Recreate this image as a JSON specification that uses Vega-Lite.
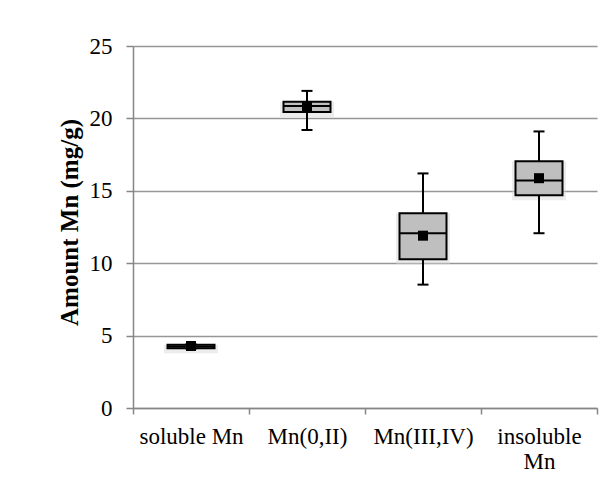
{
  "$schema": "https://vega.github.io/schema/vega-lite/v6.json",
  "width": 464,
  "height": 362,
  "autosize": "none",
  "padding": {"left": 133, "top": 46, "right": 16, "bottom": 81},
  "background": "white",
  "config": {
    "font": "Liberation Serif",
    "view": {"stroke": null},
    "axis": {
      "labelFont": "Liberation Serif",
      "titleFont": "Liberation Serif",
      "labelColor": "black",
      "titleColor": "black",
      "domainColor": "#868686",
      "tickColor": "#868686",
      "gridColor": "#969696",
      "domainWidth": 1.5,
      "tickWidth": 1.5,
      "gridWidth": 1.5
    },
    "axisY": {
      "labelFontSize": 23,
      "labelPadding": 14,
      "tickSize": 7,
      "titleFontSize": 25,
      "titleFontWeight": "bold",
      "titlePadding": 7
    }
  },
  "data": {
    "values": [
      {"cat": "soluble Mn", "min": 4.1, "q1": 4.12, "median": 4.24, "q3": 4.36, "max": 4.4, "mean": 4.28},
      {"cat": "Mn(0,II)", "min": 19.2, "q1": 20.45, "median": 20.85, "q3": 21.15, "max": 21.9, "mean": 20.8},
      {"cat": "Mn(III,IV)", "min": 8.52, "q1": 10.27, "median": 12.07, "q3": 13.45, "max": 16.2, "mean": 11.9},
      {"cat": "insoluble Mn", "min": 12.07, "q1": 14.69, "median": 15.71, "q3": 17.04, "max": 19.1, "mean": 15.87}
    ]
  },
  "encoding": {
    "x": {
      "field": "cat",
      "type": "nominal",
      "sort": null,
      "scale": {"paddingInner": 0, "paddingOuter": 0},
      "axis": {
        "title": null,
        "labelAngle": 0,
        "labelFontSize": 23,
        "labelPadding": 11,
        "tickSize": 6,
        "tickBand": "extent",
        "labelLineHeight": 25,
        "labelExpr": "datum.label == 'insoluble Mn' ? ['insoluble', 'Mn'] : datum.label"
      }
    }
  },
  "layer": [
    {
      "mark": {"type": "bar", "size": 54, "color": "#d4d4d4", "opacity": 0.45, "yOffset": 5},
      "encoding": {
        "y": {
          "field": "q1",
          "type": "quantitative",
          "scale": {"domain": [0, 25], "nice": false},
          "title": "Amount Mn (mg/g)",
          "axis": {
            "values": [0, 5, 10, 15, 20, 25],
            "grid": true,
            "titleY": 176
          }
        },
        "y2": {"field": "q3"}
      }
    },
    {
      "mark": {"type": "rule", "color": "black", "strokeWidth": 2},
      "encoding": {
        "y": {"field": "min", "type": "quantitative", "title": "Amount Mn (mg/g)"},
        "y2": {"field": "max"}
      }
    },
    {
      "mark": {"type": "tick", "color": "black", "size": 11, "thickness": 2, "opacity": 1},
      "encoding": {"y": {"field": "min", "type": "quantitative", "title": "Amount Mn (mg/g)"}}
    },
    {
      "mark": {"type": "tick", "color": "black", "size": 11, "thickness": 2, "opacity": 1},
      "encoding": {"y": {"field": "max", "type": "quantitative", "title": "Amount Mn (mg/g)"}}
    },
    {
      "mark": {"type": "bar", "size": 47, "fill": "#bfbfbf", "stroke": "black", "strokeWidth": 2},
      "encoding": {
        "y": {"field": "q1", "type": "quantitative", "title": "Amount Mn (mg/g)"},
        "y2": {"field": "q3"}
      }
    },
    {
      "mark": {"type": "tick", "color": "black", "size": 47, "thickness": 2, "opacity": 1},
      "encoding": {"y": {"field": "median", "type": "quantitative", "title": "Amount Mn (mg/g)"}}
    },
    {
      "mark": {"type": "square", "color": "black", "size": 100, "filled": true, "opacity": 1},
      "encoding": {"y": {"field": "mean", "type": "quantitative", "title": "Amount Mn (mg/g)"}}
    }
  ]
}
